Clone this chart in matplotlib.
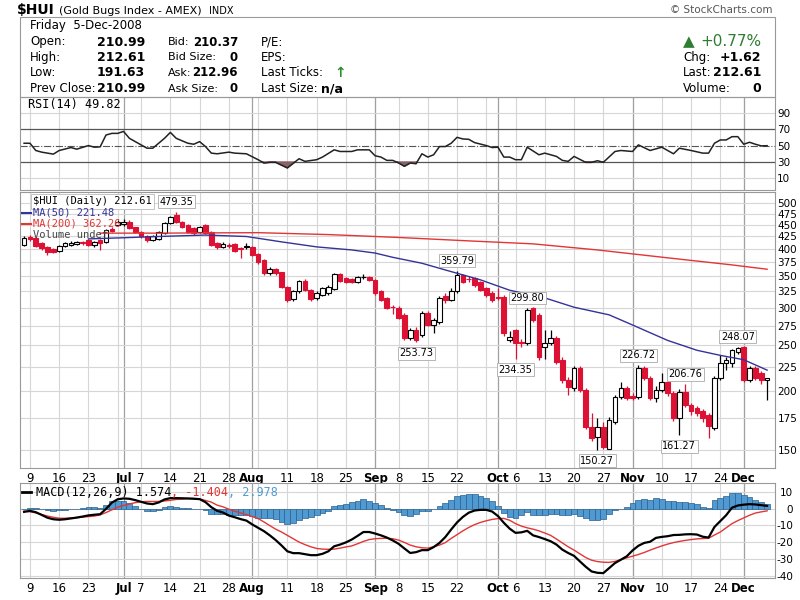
import numpy as np
import pandas as pd
import matplotlib
matplotlib.use('Agg')
import matplotlib.pyplot as plt
from matplotlib.patches import Rectangle
from matplotlib.lines import Line2D
from matplotlib.ticker import NullLocator
from matplotlib.offsetbox import TextArea, HPacker, AnchoredOffsetbox

plt.rcParams['font.family'] = ['DejaVu Sans']

# trading days 6-Jun-2008 .. 5-Dec-2008
holidays = pd.to_datetime(['2008-07-04', '2008-09-01', '2008-11-27'])
dates = pd.bdate_range('2008-06-06', '2008-12-05')
dates = dates[~dates.isin(holidays)]

open_ = [408, 424, 422, 412, 404, 400, 396, 406, 408, 410,
         413, 418, 408, 418, 414, 441, 450, 452, 457, 445,
         434, 427, 418, 420, 432, 454, 472, 456, 450, 443,
         434, 450, 434, 412, 404, 407, 410, 402, 403, 404,
         390, 379, 355, 363, 357, 332, 313, 325, 342, 327,
         315, 320, 323, 329, 354, 347, 345, 340, 348, 349,
         344, 325, 315, 302, 300, 290, 259, 270, 263, 293,
         276, 280, 318, 312, 325, 352, 346, 347, 340, 331,
         323, 316, 317, 256, 269, 254, 253, 300, 290, 248,
         253, 259, 233, 211, 203, 224, 201, 168, 160, 168,
         151, 172, 194, 203, 195, 194, 224, 213, 193, 201,
         209, 198, 175, 199, 187, 184, 181, 178, 167, 213,
         229, 229, 242, 248, 211, 224, 218, 210.99]
high = [425, 428, 424, 414, 406, 402, 408, 414, 415, 416,
        416, 420, 416, 420, 440, 445, 460, 462, 460, 446,
        436, 429, 428, 436, 456, 470, 479.35, 458, 452, 446,
        448, 452, 436, 414, 414, 412, 412, 404, 412, 406,
        392, 381, 367, 365, 358, 334, 327, 344, 345, 329,
        325, 333, 336, 356, 355, 349, 347, 351, 354, 351,
        346, 327, 317, 305, 303, 292, 272, 273, 296, 295,
        286, 318, 322, 330, 359.79, 354, 350, 349, 342, 333,
        325, 331, 319, 268, 271, 258, 299.80, 302, 292, 269,
        269, 262, 236, 214, 226, 226, 203, 180, 175, 172,
        176, 196, 209, 205, 198, 226.72, 226, 215, 205, 218,
        211, 200, 202, 206.76, 189, 186, 183, 180, 215, 238,
        236, 246, 248.07, 249, 226, 226, 221, 212.61]
low = [405, 416, 404, 398, 388, 392, 394, 404, 406, 408,
       408, 406, 404, 398, 412, 434, 448, 448, 441, 432,
       422, 414, 416, 418, 430, 452, 453, 442, 432, 428,
       432, 430, 406, 400, 402, 402, 394, 383, 400, 386,
       372, 353, 353, 352, 330, 309, 311, 322, 325, 310,
       312, 318, 320, 327, 340, 338, 338, 338, 345, 342,
       320, 310, 298, 291, 284, 257, 256, 253.73, 260, 274,
       265, 278, 308, 310, 322, 338, 340, 333, 325, 317,
       309, 312, 262, 254, 234.35, 248, 250, 280, 233, 234,
       250, 228, 208, 196, 200, 199, 166, 157, 150.27, 151,
       150.5, 170, 192, 191, 191, 192, 211, 191, 190, 199,
       195, 173, 161.27, 185, 178, 177, 172, 159, 165, 211,
       222, 225, 240, 209, 209, 211, 207, 191.63]
close = [422, 420, 406, 402, 394, 394, 406, 412, 412, 414,
         412, 408, 414, 412, 439, 436, 456, 456, 443, 434,
         425, 418, 426, 434, 454, 467, 456, 445, 434, 432,
         445, 432, 408, 404, 410, 406, 396, 400, 405, 388,
         375, 355, 363, 355, 332, 312, 325, 342, 327, 313,
         323, 331, 332, 354, 342, 340, 340, 349, 349, 344,
         323, 312, 300, 301, 286, 259, 269, 257, 293, 276,
         283, 315, 312, 325, 352, 340, 345, 335, 327, 320,
         312, 315, 265, 260, 253, 253, 297, 283, 236, 253,
         259, 230, 211, 204, 224, 201, 168, 159, 168, 152,
         174, 194, 203, 193, 193, 224, 213, 193, 201, 209,
         198, 175, 199, 187, 181, 180, 175, 169, 213, 229,
         233, 244, 247, 211, 224, 213, 210.99, 212.61]

# swing labels (day index)
label_hi = [26, 74, 86, 105, 113, 122]
label_lo = [67, 84, 98, 112]

ma50_x = [11, 16, 23, 31, 38, 44, 50, 56, 60, 63, 68, 72, 78, 83, 89, 94, 100, 104, 110, 115, 119, 123, 127]
ma50_v = [420, 422, 425, 428, 425, 414, 404, 398, 392, 384, 373, 361, 344, 327, 315, 301, 290, 276, 256, 244, 238, 233, 221.48]
ma200_x = [13, 23, 40, 52, 64, 76, 87, 98, 110, 121, 127]
ma200_v = [432, 432, 433, 429, 423, 416, 410, 398, 383, 370, 362.26]

rsi_x = [0, 1, 2, 3, 5, 6, 8, 9, 11, 12, 13, 14, 15, 16, 17, 18, 20, 21, 22, 24,
         25, 26, 28, 29, 30, 31, 32, 33, 35, 36, 38, 40, 41, 42, 43, 45, 47, 48, 50, 51,
         53, 54, 56, 57, 59, 60, 61, 62, 63, 64, 65, 66, 67, 68, 69, 70, 71, 72, 73, 74,
         75, 76, 77, 79, 80, 81, 82, 83, 84, 85, 86, 88, 89, 91, 92, 93, 94, 96, 97, 98,
         99, 101, 102, 104, 105, 107, 109, 111, 112, 114, 116, 117, 118, 119, 120, 121,
         122, 123, 124, 125, 126, 127]
rsi_v = [52.8, 52.8, 44, 42, 39.6, 44, 47.6, 45.6, 50, 48, 48.4, 62.8, 64.8, 64.8, 67.2, 58.8, 50.8, 46.8, 46.8, 58.8,
         66, 58.8, 52.8, 51.6, 54.8, 48.8, 40.8, 40, 42, 40.8, 40, 32.8, 28.8, 29.6, 29.6, 22.8, 34, 30.8, 32.8, 36,
         44.8, 42.8, 42.8, 44.8, 44.8, 37.6, 36, 32, 32, 29, 24.8, 28.8, 28, 40, 36, 38.8, 48.8, 48.8, 52.8, 60,
         58, 57.6, 53.6, 50, 47.6, 48, 36, 36, 32.8, 32.8, 48, 38.8, 40.8, 36.8, 32, 30.8, 36.8, 29.6, 29.6, 31.6,
         29.6, 42.8, 44, 42.8, 50.8, 44, 48, 40, 46.8, 44, 40.8, 40.8, 52.8, 56.8, 56.8, 60.8,
         60.8, 51.6, 54, 51.6, 49.6, 49.82]

macd = [-2.0, -1.4, -2.2, -3.8, -5.5, -6.4, -6.7, -6.4, -5.9, -5.4,
        -4.8, -4.1, -3.7, -3.4, -0.2, 3.5, 5.5, 6.0, 5.8, 5.0,
        4.0, 3.0, 2.6, 3.6, 5.4, 6.2, 6.2, 6.1, 6.0, 5.8,
        5.6, 3.8, 0.8, -1.4, -2.4, -4.2, -5.2, -6.3, -7.2, -9.5,
        -11.5, -13.5, -16.0, -18.8, -22.0, -25.5, -26.6, -26.6, -27.2, -27.8,
        -27.8, -27.0, -25.5, -22.5, -21.5, -20.2, -18.5, -16.3, -14.0, -14.0,
        -14.9, -16.0, -17.3, -19.0, -21.0, -23.8, -26.5, -26.0, -24.8, -24.8,
        -23.0, -20.5, -17.0, -12.5, -8.3, -5.0, -2.5, -1.2, -0.8, -0.8,
        -1.8, -4.5, -8.5, -12.0, -14.5, -14.2, -13.3, -16.0, -17.0, -18.2,
        -19.5, -21.5, -24.5, -26.5, -28.2, -31.5, -34.7, -37.5, -38.3, -38.5,
        -35.5, -32.5, -30.5, -28.5, -25.0, -22.2, -20.5, -19.8, -17.5, -16.9,
        -16.5, -15.8, -15.7, -15.4, -15.3, -15.5, -16.8, -17.3, -11.0, -7.5,
        -4.0, 0.5, 1.8, 2.3, 2.6, 2.4, 2.0, 1.574]
signal = [-1.5, -1.9, -2.6, -3.6, -4.5, -5.2, -5.8, -5.8, -5.6, -5.4,
          -5.1, -4.8, -4.5, -3.8, -2.4, -0.8, 0.8, 1.8, 2.7, 3.5,
          4.0, 4.2, 4.2, 4.2, 4.5, 4.9, 5.4, 5.6, 5.9, 6.0,
          5.7, 4.8, 3.8, 2.0, 1.0, -0.4, -1.6, -2.6, -3.6, -4.8,
          -6.0, -8.0, -10.2, -12.3, -14.0, -16.0, -18.0, -20.0, -21.5, -22.8,
          -23.8, -24.2, -24.3, -24.2, -23.6, -22.9, -22.3, -21.0, -19.6, -18.5,
          -18.0, -17.8, -17.7, -18.0, -18.8, -20.2, -21.8, -22.8, -23.4, -23.6,
          -22.8, -21.8, -20.3, -17.8, -15.6, -13.3, -11.3, -9.6, -8.3, -7.3,
          -6.5, -6.0, -5.9, -7.0, -9.0, -10.5, -11.5, -12.3, -13.3, -14.6,
          -16.0, -18.2, -20.5, -22.8, -24.8, -27.0, -29.2, -30.8, -31.6, -32.0,
          -32.1, -31.5, -30.5, -29.4, -28.4, -27.4, -26.2, -24.8, -23.5, -22.3,
          -21.2, -20.3, -19.6, -19.0, -18.5, -18.1, -17.9, -17.7, -15.8, -14.0,
          -11.5, -9.0, -7.2, -5.6, -4.0, -2.7, -2.0, -1.404]

price_ticks = [500, 475, 450, 425, 400, 375, 350, 325, 300, 275, 250, 225, 200, 175, 150]
rsi_ticks = [90, 70, 50, 30, 10]
macd_ticks = [10, 0, -10, -20, -30, -40]

W, H = 800, 600
RED = '#dd1133'
fig = plt.figure(figsize=(8, 6), dpi=100)


def px_axes(l, t, r, b):
    return fig.add_axes([l / W, 1 - b / H, (r - l) / W, (b - t) / H])


def ftext(xp, yp, s, **kw):
    kw.setdefault('va', 'center')
    fig.text(xp / W, 1 - yp / H, s, **kw)


n = len(dates)
x = np.arange(n)
o = np.array(open_, float)
h = np.array(high, float)
l = np.array(low, float)
c = np.array(close, float)
hist = np.array(macd) - np.array(signal)

wk = dates.isocalendar().week.values
week_idx = [i for i in range(1, n) if wk[i] != wk[i - 1]]
month_idx = [i for i in range(1, n) if dates[i].month != dates[i - 1].month]
tick_pos, tick_lab, tick_bold = [], [], []
for i in sorted(set(week_idx) | set(month_idx)):
    if i in month_idx:
        tick_pos.append(i); tick_lab.append(dates[i].strftime('%b')); tick_bold.append(True)
    elif min(abs(i - m) for m in month_idx) > 2:
        tick_pos.append(i); tick_lab.append(str(dates[i].day)); tick_bold.append(False)


def style(ax, yticks, pad):
    ax.set_xlim(-0.7, 128.35)
    for w in week_idx:
        ax.axvline(w, color='#d6d6d6', lw=0.8, zorder=0)
    for m in month_idx:
        ax.axvline(m, color='#a0a0a0', lw=0.9, zorder=0)
    ax.yaxis.tick_right()
    ax.set_yticks(yticks)
    ax.set_yticklabels([str(v) for v in yticks])
    ax.yaxis.set_minor_locator(NullLocator())
    ax.tick_params(axis='both', length=0, labelsize=7.5)
    ax.tick_params(axis='y', pad=pad)
    for lb in ax.get_yticklabels():
        lb.set_ha('right')
    for s in ax.spines.values():
        s.set_color('#999999')
        s.set_linewidth(0.8)


def xlabels(ax):
    ax.set_xticks(tick_pos)
    ax.set_xticklabels(tick_lab, fontsize=8.5)
    for lb, b in zip(ax.get_xticklabels(), tick_bold):
        if b:
            lb.set_fontweight('bold')
    ax.tick_params(axis='x', pad=3)


# ---- header ----
ftext(17, 10, '$HUI', fontsize=10, fontweight='bold')
ftext(59, 10.5, '(Gold Bugs Index - AMEX)', fontsize=8)
ftext(209, 10.5, 'INDX', fontsize=7)
ftext(773, 10, '© StockCharts.com', fontsize=7.5, color='#555555', ha='right')
fig.add_artist(Rectangle((20 / W, 1 - 97 / H), 755 / W, 80 / H, transform=fig.transFigure,
                         fill=False, ec='#999999', lw=0.8))
ftext(30, 25.5, 'Friday  5-Dec-2008', fontsize=8.5)
rows = [42, 57.5, 73, 89]
for y, lab, val in zip(rows, ['Open:', 'High:', 'Low:', 'Prev Close:'],
                       ['210.99', '212.61', '191.63', '210.99']):
    ftext(30, y, lab, fontsize=8.5)
    ftext(145, y, val, fontsize=9, fontweight='bold', ha='right')
for y, lab, val in zip(rows, ['Bid:', 'Bid Size:', 'Ask:', 'Ask Size:'],
                       ['210.37', '0', '212.96', '0']):
    ftext(168, y, lab, fontsize=8)
    ftext(238, y, val, fontsize=8.5, fontweight='bold', ha='right')
ftext(261, rows[0], 'P/E:', fontsize=8.5)
ftext(261, rows[1], 'EPS:', fontsize=8.5)
ftext(261, rows[2], 'Last Ticks:', fontsize=8.5)
ftext(340, rows[2], '↑', fontsize=10, fontweight='bold', color='#2e8b2e', ha='center')
ftext(261, rows[3], 'Last Size:', fontsize=8.5)
ftext(343, rows[3], 'n/a', fontsize=9, fontweight='bold', ha='right')
ftext(683, 42, '▲', fontsize=11, color='#2e7d32')
ftext(761, 42, '+0.77%', fontsize=11, color='#2e7d32', ha='right')
for y, lab, val in zip(rows[1:], ['Chg:', 'Last:', 'Volume:'], ['+1.62', '212.61', '0']):
    ftext(683, y, lab, fontsize=8.5)
    ftext(761, y, val, fontsize=9, fontweight='bold', ha='right')

# ---- RSI ----
ax_r = px_axes(20, 97, 775, 190)
style(ax_r, rsi_ticks, 11)
ax_r.set_ylim(-4, 109)
ax_r.set_xticks([])
ax_r.axhline(90, color='#d6d6d6', lw=0.8, zorder=0)
ax_r.axhline(10, color='#d6d6d6', lw=0.8, zorder=0)
ax_r.axhline(70, color='#555555', lw=0.9, zorder=1)
ax_r.axhline(30, color='#555555', lw=0.9, zorder=1)
ax_r.axhline(50, color='#555555', lw=0.8, ls='-.', zorder=1)
rv = np.array(rsi_v)
ax_r.fill_between(rsi_x, rv, 30, where=rv < 30, interpolate=True, color='#8a6266', zorder=2)
ax_r.plot(rsi_x, rv, color='#222222', lw=1.1, zorder=3)
ax_r.text(8 / 755, 1 - 7.5 / 93, 'RSI(14) %.2f' % rsi_v[-1], transform=ax_r.transAxes,
          fontsize=8.5, family='DejaVu Sans Mono', va='center')

# ---- price ----
ax_p = px_axes(20, 192, 775, 468)
ax_p.set_yscale('log')
style(ax_p, price_ticks, 16)
ax_p.set_ylim(137.4, 528)
for v in price_ticks:
    ax_p.axhline(v, color='#d6d6d6', lw=0.8, zorder=0)
xlabels(ax_p)
up = c >= o
col = np.where(up, 'black', RED)
ax_p.vlines(x, l, h, colors=col, lw=0.9, zorder=2)
lo_b = np.minimum(o, c)
hi_b = np.maximum(o, c)
ax_p.bar(x, hi_b - lo_b, bottom=lo_b, width=0.8, color=np.where(up, 'white', RED),
         edgecolor=col, lw=0.8, zorder=3)
ax_p.plot(ma50_x, ma50_v, color='#333399', lw=1, zorder=4)
ax_p.plot(ma200_x, ma200_v, color='#e33535', lw=1, zorder=4)
box = dict(boxstyle='square,pad=0.15', fc='white', ec='#aaaaaa', lw=0.6)
for i in label_hi:
    ax_p.annotate('%.2f' % h[i], (i, h[i]), xytext=(0, 10), textcoords='offset pixels',
                  ha='center', va='center', fontsize=7, bbox=box, zorder=6)
for i in label_lo:
    ax_p.annotate('%.2f' % l[i], (i, l[i]), xytext=(0, -11), textcoords='offset pixels',
                  ha='center', va='center', fontsize=7, bbox=box, zorder=6)


def pa(xp, yp):
    return (xp - 20) / 755, (468 - yp) / 276


mono = dict(family='DejaVu Sans Mono', fontsize=7.5, va='center', transform=ax_p.transAxes, zorder=10)
ax_p.text(*pa(33, 201.5), '$HUI (Daily) %.2f' % c[-1], color='black',
          bbox=dict(boxstyle='square,pad=0.2', fc='white', ec='#bbbbbb', lw=0.6), **mono)
ax_p.text(*pa(33, 212.5), 'MA(50) %.2f' % ma50_v[-1], color='#333399', **mono)
ax_p.text(*pa(33, 223.5), 'MA(200) %.2f' % ma200_v[-1], color='#e33535', **mono)
ax_p.text(*pa(33, 234.5), 'Volume undef', color='#444444', **mono)
fig.add_artist(Line2D([22 / W, 31 / W], [1 - 212.5 / H] * 2, color='#333399', lw=1.5))
fig.add_artist(Line2D([22 / W, 31 / W], [1 - 223.5 / H] * 2, color='#e33535', lw=1.5))

# ---- MACD ----
ax_m = px_axes(20, 483, 775, 578)
style(ax_m, macd_ticks, 13)
ax_m.set_ylim(-41.4, 15.2)
for v in macd_ticks:
    ax_m.axhline(v, color='#d6d6d6', lw=0.8, zorder=0)
xlabels(ax_m)
ax_m.bar(x, hist, width=1.0, color='#4f9ad2', edgecolor='#2c5f8a', lw=0.5, zorder=2)
ax_m.plot(x, signal, color='#e33535', lw=1, zorder=3)
ax_m.plot(x, macd, color='black', lw=1.6, zorder=4)
parts = [TextArea('MACD(12,26,9) %.3f' % macd[-1], textprops=dict(color='black', size=8.5, family='DejaVu Sans Mono')),
         TextArea(', %.3f' % signal[-1], textprops=dict(color='#e33535', size=8.5, family='DejaVu Sans Mono')),
         TextArea(', %.3f' % hist[-1], textprops=dict(color='#4f9ad2', size=8.5, family='DejaVu Sans Mono'))]
ab = AnchoredOffsetbox(loc='center left', child=HPacker(children=parts, align='baseline', pad=0, sep=0),
                       pad=0, borderpad=0, frameon=False, bbox_to_anchor=(16 / 755, 1 - 9 / 95),
                       bbox_transform=ax_m.transAxes)
ax_m.add_artist(ab)
fig.add_artist(Line2D([22 / W, 31 / W], [1 - 492 / H] * 2, color='black', lw=2))

fig.savefig('out.png', dpi=100)
